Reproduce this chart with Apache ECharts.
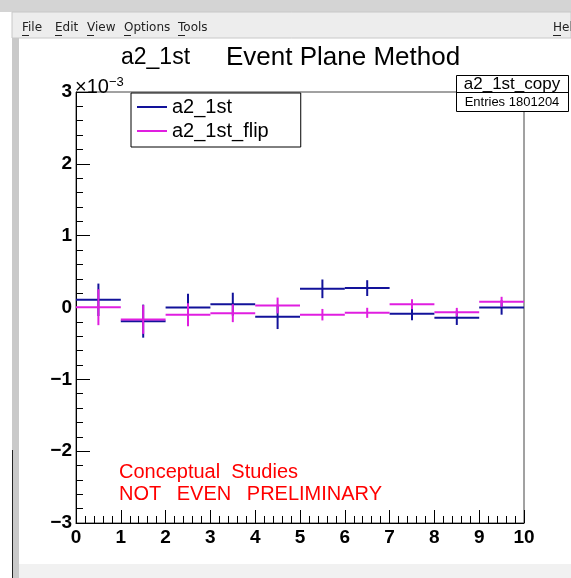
<!DOCTYPE html>
<html>
<head>
<meta charset="utf-8">
<script src="https://cdn.jsdelivr.net/npm/echarts@6/dist/echarts.min.js"></script>
<style>
  html, body { margin: 0; padding: 0; background: #ffffff; }
  #chart { width: 571px; height: 578px; }
</style>
</head>
<body>
<div id="chart"></div>
<script>
// Bin edges of the histogram (x axis, 10 bins from 0 to 10)
const binEdges = [0, 1, 2, 3, 4, 5, 6, 7, 8, 9, 10];

// Bin contents in units of 1e-3, with their statistical errors
const a2Values   = [0.107, -0.19, 0.0, 0.046, -0.13, 0.26, 0.27, -0.088, -0.143, 0.0];
const a2Errors   = [0.226, 0.23, 0.19, 0.16, 0.17, 0.13, 0.11, 0.09, 0.10, 0.10];
const flipValues = [0.004, -0.167, -0.10, -0.079, 0.028, -0.10, -0.074, 0.046, -0.065, 0.079];
const flipErrors = [0.25, 0.20, 0.16, 0.125, 0.11, 0.08, 0.07, 0.07, 0.06, 0.07];

// Axis ranges
const xRange = [0, 10];
const yRange = [-3, 3];

const seriesNames = ['a2_1st', 'a2_1st_flip'];
const seriesColors = ['#12129a', '#e01ee0'];

const FONT = '"Liberation Sans", Arial, Helvetica, sans-serif';

function binRows(values, errors) {
  return values.map((v, i) => [binEdges[i], binEdges[i + 1], v, errors[i]]);
}

// Horizontal bar spanning the bin width plus a vertical error bar at the bin centre
function errorCross(color) {
  return function (params, api) {
    const lo = api.value(0), hi = api.value(1), v = api.value(2), e = api.value(3);
    const mid = (lo + hi) / 2;
    const a = api.coord([lo, v]);
    const b = api.coord([hi, v]);
    const t = api.coord([mid, v + e]);
    const d = api.coord([mid, v - e]);
    const style = { stroke: color, lineWidth: 2 };
    return {
      type: 'group',
      children: [
        { type: 'line', shape: { x1: a[0], y1: a[1], x2: b[0], y2: b[1] }, style: style },
        { type: 'line', shape: { x1: t[0], y1: t[1], x2: d[0], y2: d[1] }, style: style }
      ]
    };
  };
}

function minusLabel(v) {
  return v < 0 ? '\u2212' + Math.abs(v) : String(v);
}

const chart = echarts.init(document.getElementById('chart'), null, { renderer: 'canvas' });

const menuItems = [
  { t: 'File', x: 22 }, { t: 'Edit', x: 55 }, { t: 'View', x: 87 },
  { t: 'Options', x: 124 }, { t: 'Tools', x: 178 }
];
const MENU_FONT = '12px "DejaVu Sans", sans-serif';

const chrome = [
  // window frame strips
  { type: 'rect', shape: { x: 0, y: 0, width: 571, height: 12 }, style: { fill: '#d4d4d4' }, z: 0 },
  { type: 'rect', shape: { x: 12, y: 12, width: 559, height: 26 }, style: { fill: '#ededed', stroke: '#c8c8c8', lineWidth: 1 }, z: 0 },
  { type: 'rect', shape: { x: 12, y: 38, width: 7, height: 540 }, style: { fill: '#c9c9c9' }, z: 0 },
  { type: 'rect', shape: { x: 19, y: 564, width: 552, height: 14 }, style: { fill: '#f1f1f1' }, z: 0 },
  { type: 'line', shape: { x1: 12.5, y1: 450, x2: 12.5, y2: 578 }, style: { stroke: '#222', lineWidth: 1 }, z: 1 },
  { type: 'text', style: { text: 'Hel', x: 553, y: 28, font: MENU_FONT, fill: '#222', textVerticalAlign: 'middle' }, z: 2 },
  { type: 'line', shape: { x1: 553, y1: 35.5, x2: 561, y2: 35.5 }, style: { stroke: '#222', lineWidth: 1 }, z: 2 }
];
menuItems.forEach(m => {
  chrome.push({ type: 'text', style: { text: m.t, x: m.x, y: 28, font: MENU_FONT, fill: '#222', textVerticalAlign: 'middle' }, z: 2 });
  chrome.push({ type: 'line', shape: { x1: m.x, y1: 35.5, x2: m.x + 7, y2: 35.5 }, style: { stroke: '#222', lineWidth: 1 }, z: 2 });
});

const annotations = [
  // histogram title and plot heading
  { type: 'text', style: { text: 'a2_1st', x: 121, y: 58, font: '23px ' + FONT, fill: '#000', textVerticalAlign: 'middle' }, z: 5 },
  { type: 'text', style: { text: 'Event Plane Method', x: 226, y: 58, font: '26px ' + FONT, fill: '#000', textVerticalAlign: 'middle' }, z: 5 },
  // exponent of the y axis
  { type: 'text', style: { text: '{a|\u00d710}{b|\u22123}', x: 75, y: 87, fill: '#000', textVerticalAlign: 'middle',
      rich: { a: { font: '20px ' + FONT, fill: '#000' }, b: { font: '13px ' + FONT, fill: '#000', verticalAlign: 'top', padding: [0, 0, 10, 0] } } }, z: 5 },
  // statistics box
  { type: 'rect', shape: { x: 456.5, y: 75.5, width: 112, height: 36 }, style: { fill: '#fff', stroke: '#000', lineWidth: 1 }, z: 6 },
  { type: 'line', shape: { x1: 456.5, y1: 92.5, x2: 568.5, y2: 92.5 }, style: { stroke: '#000', lineWidth: 1 }, z: 7 },
  { type: 'text', style: { text: 'a2_1st_copy', x: 512, y: 84, font: '17px ' + FONT, fill: '#000', textAlign: 'center', textVerticalAlign: 'middle' }, z: 7 },
  { type: 'text', style: { text: 'Entries 1801204', x: 512, y: 102.5, font: '13px ' + FONT, fill: '#000', textAlign: 'center', textVerticalAlign: 'middle' }, z: 7 },
  // status text
  { type: 'text', style: { text: 'Conceptual  Studies', x: 119, y: 472, font: '20px ' + FONT, fill: '#ff0000', textVerticalAlign: 'middle' }, z: 5 },
  { type: 'text', style: { text: 'NOT\u2002 EVEN\u2002 PRELIMINARY', x: 119, y: 494, font: '20px ' + FONT, fill: '#ff0000', textVerticalAlign: 'middle' }, z: 5 }
];

const axisLabelStyle = { fontFamily: FONT, fontWeight: 'bold', fontSize: 19, color: '#000' };

chart.setOption({
  animation: false,
  backgroundColor: '#ffffff',
  grid: { left: 76, top: 92, width: 448, height: 431, show: true, borderColor: '#444', borderWidth: 1, backgroundColor: '#fff' },
  legend: {
    orient: 'vertical',
    left: 131, top: 93,
    padding: [3, 32, 5, 6],
    itemWidth: 30, itemHeight: 2, itemGap: 2,
    borderColor: '#000', borderWidth: 1, backgroundColor: '#fff',
    icon: 'rect',
    textStyle: { fontFamily: FONT, fontSize: 20, color: '#000', lineHeight: 22 },
    data: seriesNames.map((n, i) => ({ name: n, itemStyle: { color: seriesColors[i] } })),
    z: 8
  },
  xAxis: {
    type: 'value', min: xRange[0], max: xRange[1], interval: 1,
    axisLine: { show: true, onZero: false, lineStyle: { color: '#000', width: 1 } },
    axisTick: { show: true, inside: true, length: 13, lineStyle: { color: '#000' } },
    minorTick: { show: true, splitNumber: 5, length: 7, lineStyle: { color: '#000' } },
    splitLine: { show: false },
    axisLabel: Object.assign({ margin: 5 }, axisLabelStyle)
  },
  yAxis: {
    type: 'value', min: yRange[0], max: yRange[1], interval: 1,
    axisLine: { show: true, onZero: false, lineStyle: { color: '#000', width: 1 } },
    axisTick: { show: true, inside: true, length: 14, lineStyle: { color: '#000' } },
    minorTick: { show: true, splitNumber: 5, length: 7, lineStyle: { color: '#000' } },
    splitLine: { show: false },
    axisLabel: Object.assign({ margin: 4, formatter: minusLabel }, axisLabelStyle)
  },
  series: [
    {
      name: seriesNames[0], type: 'custom', color: seriesColors[0],
      renderItem: errorCross(seriesColors[0]),
      encode: { x: [0, 1], y: [2] },
      data: binRows(a2Values, a2Errors), z: 3
    },
    {
      name: seriesNames[1], type: 'custom', color: seriesColors[1],
      renderItem: errorCross(seriesColors[1]),
      encode: { x: [0, 1], y: [2] },
      data: binRows(flipValues, flipErrors), z: 4
    }
  ],
  graphic: { elements: chrome.concat(annotations) }
});
</script>
</body>
</html>
